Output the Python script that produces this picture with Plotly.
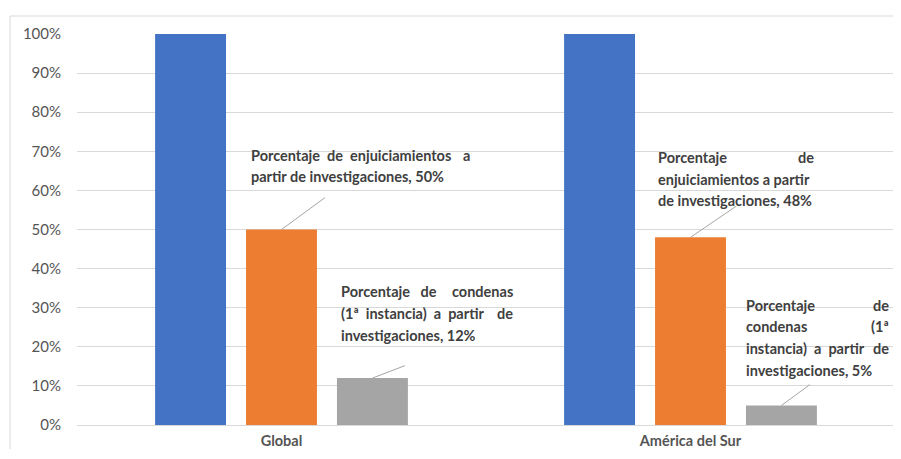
import plotly.graph_objects as go

categories = ["Global", "América del Sur"]
series_names = ["Investigaciones", "Enjuiciamientos", "Condenas"]
investigaciones = [1.00, 1.00]
enjuiciamientos = [0.50, 0.48]
condenas = [0.12, 0.05]
colors = ["#4472C4", "#ED7D31", "#A5A5A5"]
tick_vals = [0, 0.1, 0.2, 0.3, 0.4, 0.5, 0.6, 0.7, 0.8, 0.9, 1.0]

# label text lines: (left part, right-aligned last word or None)
label_enj_global = [("Porcentaje  de  enjuiciamientos", "a"), ("partir de investigaciones, 50%", None)]
label_con_global = [("Porcentaje   de", "condenas"), ("(1ª  instancia)  a  partir", "de"),
                    ("investigaciones, 12%", None)]
label_enj_sur = [("Porcentaje", "de"), ("enjuiciamientos a partir", None), ("de investigaciones, 48%", None)]
label_con_sur = [("Porcentaje", "de"), ("condenas", "(1ª"), ("instancia)  a  partir", "de"),
                 ("investigaciones, 5%", None)]

# page geometry (the page body adds an 8px margin on every side)
OFF = 8
PL, PR, PT, PB = 77, 895, 34, 425  # plot area in page pixels
W, H = 891, 441
ML, MT = PL - OFF, PT - OFF
MR, MB = (OFF + W) - PR, (OFF + H) - PB
PW, PH = PR - PL, PB - PT

fig = go.Figure()
for name, vals, c in zip(series_names, [investigaciones, enjuiciamientos, condenas], colors):
    fig.add_trace(go.Bar(x=categories, y=vals, name=name, marker=dict(color=c, line=dict(width=0))))

bargap = 0.333
slot = (1 - bargap) / 3

FONT = "Lato, 'Open Sans', sans-serif"
TXT = "#404040"
LSIZE = 14.5
annotations = []


def px_to_paper(px, py):
    return (px - PL) / PW, (PB - py) / PH


def add_label(lines, left_px, right_px, line_ys):
    for (left_txt, right_txt), py in zip(lines, line_ys):
        xp, yp = px_to_paper(left_px, py)
        annotations.append(dict(xref="paper", yref="paper", x=xp, y=yp,
                                text="<b>" + left_txt.replace("  ", "\u00a0 ") + "</b>",
                                showarrow=False, xanchor="left", yanchor="middle",
                                font=dict(family=FONT, size=LSIZE, color=TXT)))
        if right_txt:
            xr, _ = px_to_paper(right_px, py)
            annotations.append(dict(xref="paper", yref="paper", x=xr, y=yp, text="<b>" + right_txt + "</b>",
                                    showarrow=False, xanchor="right", yanchor="middle",
                                    font=dict(family=FONT, size=LSIZE, color=TXT)))


def add_leader(cat_idx, trace_idx, value, ax, ay):
    annotations.append(dict(xref="x", yref="y", x=cat_idx + (trace_idx - 1) * slot, y=value,
                            text="", showarrow=True, arrowhead=0, arrowwidth=1,
                            arrowcolor="#A6A6A6", ax=ax, ay=ay, axref="pixel", ayref="pixel",
                            standoff=0, startstandoff=0))


add_label(label_enj_global, 249, 472, [155, 176])
add_label(label_con_global, 339, 515, [291, 313, 335])
add_label(label_enj_sur, 656, 816, [157, 179, 200])
add_label(label_con_sur, 744, 891, [305, 326, 348, 370])

add_leader(0, 1, enjuiciamientos[0], 45, -33)
add_leader(0, 2, condenas[0], 34, -13)
add_leader(1, 1, enjuiciamientos[1], 47, -32)
add_leader(1, 2, condenas[1], 30, -22)

shapes = []
x10, _ = px_to_paper(10, 0)
_, y16 = px_to_paper(0, 16)
_, ybot = px_to_paper(0, 459)
xr, _ = px_to_paper(901, 0)
shapes.append(dict(type="line", xref="paper", yref="paper", x0=x10, x1=xr, y0=y16, y1=y16,
                   line=dict(color="#D9D9D9", width=1)))
shapes.append(dict(type="line", xref="paper", yref="paper", x0=x10, x1=x10, y0=y16, y1=ybot,
                   line=dict(color="#D9D9D9", width=1)))

fig.update_layout(
    width=W, height=H,
    margin=dict(l=ML, r=MR, t=MT, b=MB, pad=0, autoexpand=False),
    paper_bgcolor="white", plot_bgcolor="white",
    barmode="group", bargap=bargap, bargroupgap=0.22,
    showlegend=False,
    annotations=annotations,
    shapes=shapes,
    font=dict(family=FONT, color="#595959", size=15),
)
fig.update_yaxes(range=[0, 1], tickvals=tick_vals, tickformat=".0%", showgrid=True,
                 gridcolor="#D9D9D9", gridwidth=1, zeroline=False, showline=False,
                 ticks="", ticklabelstandoff=15, automargin=False,
                 tickfont=dict(family=FONT, size=15, color="#555555"))
fig.update_xaxes(showline=True, linecolor="#D9D9D9", linewidth=1, ticks="",
                 ticklabelstandoff=3, automargin=False,
                 tickfont=dict(family=FONT, size=14.5, color="#555555", weight="bold"))

fig.write_html("out.html")
